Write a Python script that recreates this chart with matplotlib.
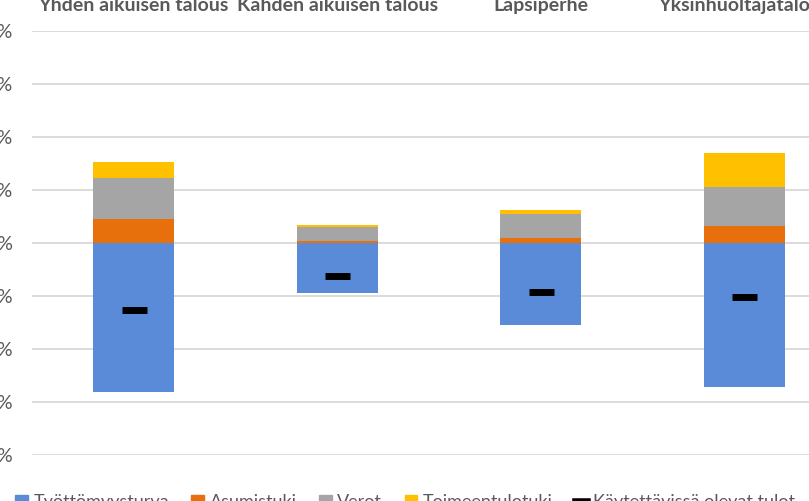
import numpy as np
import matplotlib.pyplot as plt
from matplotlib.lines import Line2D
from matplotlib.patches import Patch

# Arvot luettu kuvasta (%)
categories = ['Yhden aikuisen talous', 'Kahden aikuisen talous', 'Lapsiperhe', 'Yksinhuoltajatalous']
tyottomyysturva = [-56.2, -18.9, -31.0, -54.4]
asumistuki = [9.2, 0.6, 2.0, 6.6]
verot = [15.4, 5.3, 8.8, 14.6]
toimeentulotuki = [6.0, 0.8, 1.5, 12.9]
kaytettavissa = [-25.2, -12.3, -18.6, -20.3]

y_ticks = [-80, -60, -40, -20, 0, 20, 40, 60, 80]
y_labels = ['-80 %', '-60 %', '-40 %', '-20 %', '0 %', '20 %', '40 %', '60 %', '80 %']

c_blue = '#5A8BD8'
c_orange = '#E8700C'
c_gray = '#A5A5A5'
c_gold = '#FFC000'
txt = '#595959'

plt.rcParams['font.family'] = ['Lato', 'DejaVu Sans']

fig = plt.figure(figsize=(8.09, 5.01), dpi=100)
ax = fig.add_axes([32 / 809, 46 / 501, 814 / 809, 424 / 501])

x = np.arange(len(categories))
w = 0.4

ax.bar(x, tyottomyysturva, w, color=c_blue, zorder=2)
ax.bar(x, asumistuki, w, color=c_orange, zorder=2)
b2 = np.array(asumistuki)
ax.bar(x, verot, w, bottom=b2, color=c_gray, zorder=2)
b3 = b2 + np.array(verot)
ax.bar(x, toimeentulotuki, w, bottom=b3, color=c_gold, zorder=2)
ax.plot(x, kaytettavissa, ls='none', marker='_', ms=18, mew=5, color='black', zorder=3)

ax.set_xlim(-0.5, 3.5)
ax.set_ylim(-80, 80)
ax.set_yticks(y_ticks)
ax.set_yticklabels(y_labels)
ax.yaxis.grid(True, color='#d9d9d9', lw=1.3, zorder=0)
ax.set_axisbelow(True)
for s in ax.spines.values():
    s.set_visible(False)

ax.xaxis.set_ticks_position('top')
ax.set_xticks(x)
ax.set_xticklabels(categories, fontweight='bold')
ax.tick_params(axis='x', length=0, pad=12.5, labelsize=14, labelcolor=txt)
ax.tick_params(axis='y', length=0, pad=14, labelsize=14, labelcolor=txt)

handles = [
    Patch(color=c_blue, label='Työttömyysturva'),
    Patch(color=c_orange, label='Asumistuki'),
    Patch(color=c_gray, label='Verot'),
    Patch(color=c_gold, label='Toimeentulotuki'),
    Line2D([], [], color='black', lw=4, label='Käytettävissä olevat tulot'),
]
leg = fig.legend(handles=handles, loc='upper left', bbox_to_anchor=(8 / 809, 1 - 487 / 501),
                 ncol=5, frameon=False, fontsize=13, handlelength=0.7, handleheight=0.7,
                 handletextpad=0.3, columnspacing=1.25, borderaxespad=0)
for t in leg.get_texts():
    t.set_color(txt)

plt.savefig('out.png', dpi=100)
